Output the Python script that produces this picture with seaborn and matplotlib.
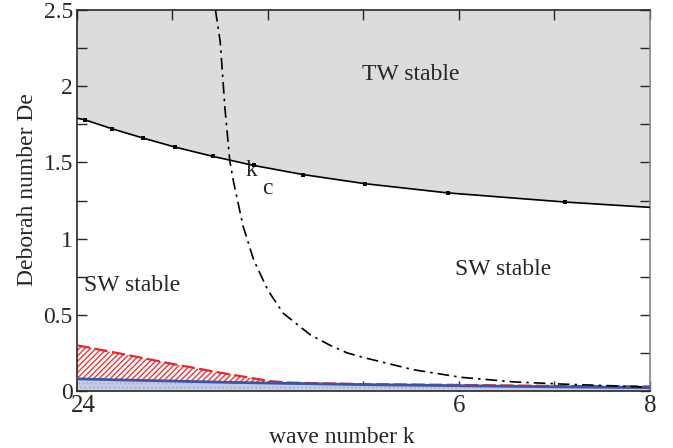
import numpy as np
import pandas as pd
import matplotlib
matplotlib.use("Agg")
import matplotlib.pyplot as plt
import matplotlib.transforms as mtrans
import seaborn as sns

# ─── Data ─────────────────────────────────────────────────────────────────────
# TW/SW boundary (solid line with square markers)
tw_k_marks  = [2.08, 2.37, 2.69, 3.03, 3.42, 3.85, 4.37, 5.02, 5.88, 7.11]
tw_de_marks = [1.78, 1.72, 1.66, 1.60, 1.54, 1.48, 1.42, 1.36, 1.30, 1.24]
tw_k_line   = [2.0] + tw_k_marks + [8.0]
tw_de_line  = [1.79] + tw_de_marks + [1.205]

# critical wave number k_c (dash-dot)
kc_k  = [3.45, 3.50, 3.55, 3.60, 3.64, 3.74, 3.85, 4.00, 4.16, 4.44, 4.65,
         4.83, 5.00, 5.52, 6.02, 6.57, 7.10, 7.94]
kc_de = [2.50, 2.29, 1.85, 1.51, 1.37, 1.08, 0.86, 0.66, 0.51, 0.37, 0.30,
         0.25, 0.22, 0.14, 0.09, 0.06, 0.045, 0.027]

# red hatched band (upper edge) and blue band (upper edge)
band_k    = [2.0, 2.5, 2.98, 3.5, 4.02, 4.23, 5.0, 6.0, 7.0, 8.0]
red_de    = [0.30, 0.24, 0.18, 0.12, 0.065, 0.055, 0.045, 0.04, 0.033, 0.03]
blue_de   = [0.08, 0.072, 0.066, 0.058, 0.052, 0.05, 0.042, 0.035, 0.028, 0.022]

x_ticks       = [2, 3, 4, 5, 6, 7, 8]
x_tick_labels = ["24", "", "", "", "6", "", "8"]
y_ticks       = [0, 0.5, 1, 1.5, 2, 2.5]
y_tick_labels = ["0", "0.5", "1", "1.5", "2", "2.5"]

# ─── Style ───────────────────────────────────────────────────────────────────
sns.set_style("ticks")
plt.rcParams["font.family"] = ["Liberation Serif", "DejaVu Serif"]

fig = plt.figure(figsize=(6.73, 4.48), dpi=100)
ax = fig.add_axes([0.1144, 0.1272, 0.8514, 0.8505])

# ── Regions ─────────────────────────────────────────────────
ax.fill_between(tw_k_line, tw_de_line, 2.5, color="#dcdcdc", lw=0, zorder=0)
ax.fill_between(band_k, 0, blue_de, facecolor="#c9cde6", edgecolor="#aab0d8",
                hatch="....", lw=0, zorder=1)
ax.fill_between(band_k, blue_de, red_de, facecolor="white", edgecolor="#e8383a",
                hatch="//////", lw=0, zorder=1)

# ── Curves ──────────────────────────────────────────────────
band_df = pd.DataFrame({"k": band_k, "red": red_de, "blue": blue_de})
sns.lineplot(data=band_df, x="k", y="red", ax=ax, color="#e8262a", lw=1.6,
             linestyle=(0, (6, 2)), sort=False, zorder=3)
sns.lineplot(data=band_df, x="k", y="blue", ax=ax, color="#3a55a5", lw=2.0,
             sort=False, zorder=3)

tw_df = pd.DataFrame({"k": tw_k_line, "De": tw_de_line})
sns.lineplot(data=tw_df, x="k", y="De", ax=ax, color="black", lw=1.2,
             sort=False, zorder=4)
mk_df = pd.DataFrame({"k": tw_k_marks, "De": tw_de_marks})
sns.scatterplot(data=mk_df, x="k", y="De", ax=ax, color="black", marker="s",
                s=12, linewidth=0, zorder=5)

kc_df = pd.DataFrame({"k": kc_k, "De": kc_de})
sns.lineplot(data=kc_df, x="k", y="De", ax=ax, color="black", lw=1.2,
             linestyle=(0, (7, 3, 1.5, 3)), sort=False, zorder=4)

# ── Annotations ─────────────────────────────────────────────
ax.text(5.49, 2.08, "TW stable", fontsize=17, ha="center", va="center")
ax.text(2.07, 0.69, "SW stable", fontsize=17, ha="left", va="center")
ax.text(6.46, 0.80, "SW stable", fontsize=17, ha="center", va="center")
ax.text(3.83, 1.45, "k", fontsize=17, ha="center", va="center")
ax.text(3.99, 1.33, "c", fontsize=17, ha="center", va="center")

# ── Axes ────────────────────────────────────────────────────
ax.set_xlim(2, 8)
ax.set_ylim(0, 2.5)
ax.set_xticks(x_ticks)
ax.set_xticklabels(x_tick_labels, fontsize=18)
ax.set_yticks(y_ticks)
ax.set_yticklabels(y_tick_labels, fontsize=17)
ax.set_yticks(np.arange(0.25, 2.5, 0.5), minor=True)
ax.tick_params(which="both", direction="in", top=True, right=True,
               length=7, width=1, pad=3)

# nudge the "24" label a little to the right, like the original
shift = mtrans.ScaledTranslation(6 / 100, 0, fig.dpi_scale_trans)
first = ax.get_xticklabels()[0]
first.set_transform(first.get_transform() + shift)

ax.set_xlabel("wave number k", fontsize=17)
ax.set_ylabel("Deborah number De", fontsize=17)
ax.xaxis.set_label_coords(0.4625, -0.095)
ax.yaxis.set_label_coords(-0.068, 0.528)
for s in ax.spines.values():
    s.set_linewidth(1.2)
ax.spines["right"].set_color("#888888")

fig.savefig("out.png", dpi=100)
